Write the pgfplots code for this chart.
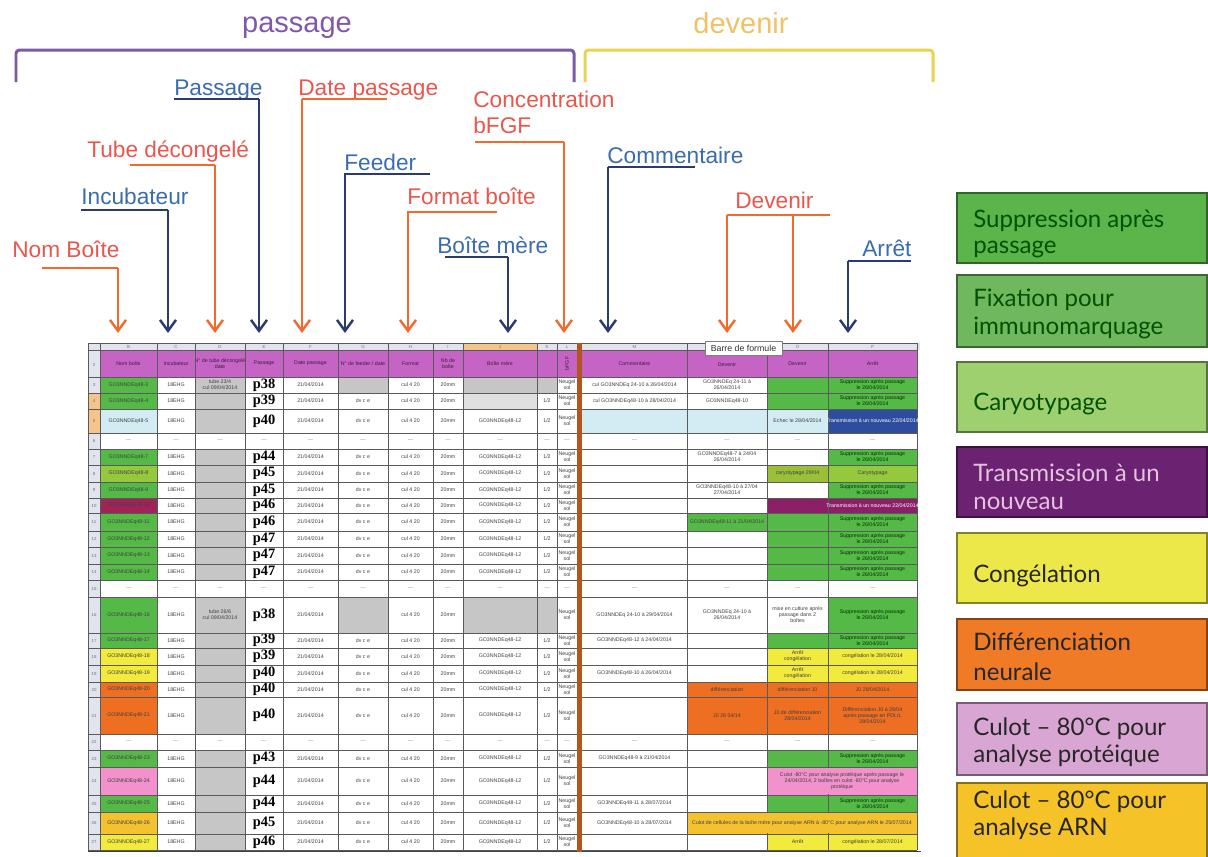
\documentclass[border=0pt]{standalone}
\usepackage{pgfplots}
\pgfplotsset{compat=1.18}
\usepackage{fontspec}
\setmainfont{Liberation Sans}
\newfontfamily\legfont{Lato}
\newfontfamily\serfont{Liberation Serif}
\usetikzlibrary{arrows.meta}

\definecolor{ttlpurple}{HTML}{8158A8}
\definecolor{brkpurple}{HTML}{7A5BA6}
\definecolor{ttlgold}{HTML}{F0C264}
\definecolor{brkyellow}{HTML}{E9D44C}
\definecolor{labred}{HTML}{E9564C}
\definecolor{labblue}{HTML}{3A6DB0}
\definecolor{arrred}{HTML}{F26A2E}
\definecolor{arrblue}{HTML}{2B3B70}
\definecolor{sgreen}{HTML}{55B947}
\definecolor{sygreen}{HTML}{94C83D}
\definecolor{solive}{HTML}{9CBF3A}
\definecolor{smaroon}{HTML}{A02458}
\definecolor{spurple}{HTML}{8C2067}
\definecolor{syellow}{HTML}{F2EA3C}
\definecolor{sorange}{HTML}{EE6F22}
\definecolor{spink}{HTML}{F291CB}
\definecolor{samber}{HTML}{F4C22F}
\definecolor{slblue}{HTML}{D3EBF3}
\definecolor{sblue}{HTML}{2E4D9E}
\definecolor{smag}{HTML}{C564C5}
\definecolor{sgray}{HTML}{C6C6C6}
\definecolor{shead}{HTML}{E1E4EC}
\definecolor{shorange}{HTML}{F5C48C}
\definecolor{sbrown}{HTML}{B4541E}
\definecolor{sgrid}{HTML}{5A5A5A}
\definecolor{lgA}{HTML}{5BB54A}
\definecolor{lgB}{HTML}{70B85D}
\definecolor{lgC}{HTML}{9FD070}
\definecolor{lgD}{HTML}{6B2270}
\definecolor{lgE}{HTML}{ECE84A}
\definecolor{lgF}{HTML}{EF7B26}
\definecolor{lgG}{HTML}{D9A6D4}
\definecolor{lgH}{HTML}{F5C228}

\newcommand\tfont{\fontsize{3}{3.4}\selectfont}
\newcommand\annfont{\fontsize{12.9}{15}\selectfont}
\newcommand\legf{\legfont\fontsize{13.7}{15}\selectfont}

\tikzset{
  tt/.style={font=\tfont, text=black!75, inner sep=0pt, align=center},
  pf/.style={font=\serfont\bfseries\fontsize{8.2}{8.2}\selectfont, inner sep=0pt},
  rn/.style={font=\fontsize{2.5}{2.5}\selectfont, text=black!55, inner sep=0pt},
}

% annotation helpers
\newcommand{\lab}[4]{\node[anchor=base west, inner sep=0pt, text=#1, font=\annfont] at (#2,#3) {#4};}
\newcommand{\uline}[4]{\draw[#1, line width=1pt] (#2,#4) -- (#3,#4);}
\newcommand{\arr}[3]{\draw[#1, line width=1.1pt, -{Straight Barb[length=2.2mm,width=3.2mm,line width=1.4pt]}] (#2,#3) -- (#2,333);}
% legend helpers
\newcommand{\legbox}[3]{\filldraw[fill=#3, draw=#3!55!black, line width=0.9pt] (957,#1) rectangle (1207,#2);}
\newcommand{\legt}[3]{\node[anchor=base west, inner sep=0pt, text=#1, font=\legf] at (973,#2) {#3};}

% data row: top, bottom, mid, passage, B, N, O, P colours, row number
\newcommand{\drow}[9]{%
 \fill[#5] (100,#1) rectangle (157,#2);
 \fill[sgray] (195,#1) rectangle (245,#2);
 \fill[#6] (687,#1) rectangle (767,#2);
 \fill[#7] (767,#1) rectangle (828,#2);
 \fill[#8] (828,#1) rectangle (917,#2);
 \node[pf] at (264,#3) {#4};
 \node[tt] at (128.5,#3) {GO3NNDEq48-#9};
 \node[tt] at (176,#3) {18EHG};
 \node[tt] at (310.5,#3) {21/04/2014};
 \node[tt] at (363,#3) {dv c e};
 \node[tt] at (410.5,#3) {cul 4 20};
 \node[tt] at (448,#3) {20mm};
 \node[tt] at (500,#3) {GO3NNDEq48-12};
 \node[tt] at (547,#3) {1/2};
 \node[tt] at (567,#3) {Neugel\\sol};
 \node[rn] at (94,#3) {#9};
}
\newcommand{\dotrow}[4]{%
 \pgfplotsinvokeforeach{128.5,176,220,264,310.5,363,410.5,448,500,547,567,634.5,727,797.5,872.5}{\node[tt,text=black!45] at (##1,#3) {---};}
 \node[rn] at (94,#3) {#4};
}

\begin{document}
\begin{tikzpicture}
\begin{axis}[width=24.16cm, height=17.12cm, scale only axis,
  xmin=0, xmax=1208, ymin=0, ymax=856, y dir=reverse, hide axis, clip=true]
\fill[white] (0,0) rectangle (1208,856);

% ---------- titles and brackets ----------
\node[anchor=base, inner sep=0pt, text=ttlpurple, font=\fontsize{16.5}{18}\selectfont] at (297,32) {passage};
\node[anchor=base, inner sep=0pt, text=ttlgold, font=\fontsize{16.5}{18}\selectfont] at (741,33) {devenir};
\draw[brkpurple, line width=1.7pt, rounded corners=2pt] (16,82) -- (16,50) -- (574,50) -- (574,82);
\draw[brkyellow, line width=1.7pt, rounded corners=2pt] (585,82) -- (585,50) -- (933,50) -- (933,82);

% ---------- annotations ----------
\lab{labred}{12}{257}{Nom Boîte}
\uline{arrred}{42}{118}{268}\arr{arrred}{118}{268}
\lab{labblue}{81}{204}{Incubateur}
\uline{arrblue}{81}{168}{210}\arr{arrblue}{168}{210}
\lab{labred}{87}{157}{Tube décongelé}
\uline{arrred}{130}{215}{165}\arr{arrred}{215}{165}
\lab{labblue}{174}{95}{Passage}
\uline{arrblue}{174}{259}{99}\arr{arrblue}{259}{99}
\lab{labred}{298}{95}{Date passage}
\uline{arrred}{302}{387}{99}\arr{arrred}{302}{99}
\lab{labblue}{344}{170}{Feeder}
\uline{arrblue}{344}{430}{174}\arr{arrblue}{345}{174}
\lab{labred}{407}{204}{Format boîte}
\uline{arrred}{407}{497}{212}\arr{arrred}{408}{212}
\lab{labblue}{437}{253}{Boîte mère}
\uline{arrblue}{445}{508}{257}\arr{arrblue}{508}{257}
\lab{labred}{473}{107}{Concentration}
\lab{labred}{473}{133}{bFGF}
\uline{arrred}{475}{564}{142}\arr{arrred}{564}{142}
\lab{labblue}{607}{163}{Commentaire}
\uline{arrblue}{608}{695}{167}\arr{arrblue}{608}{167}
\lab{labred}{735}{208}{Devenir}
\uline{arrred}{727}{830}{215}\arr{arrred}{727}{215}\arr{arrred}{793}{215}
\lab{labblue}{862}{256}{Arrêt}
\uline{arrblue}{848}{911}{261}\arr{arrblue}{848}{261}

% ---------- legend ----------
\legbox{193}{263}{lgA}
\legt{black!20!green!40!black}{227}{Suppression après}
\legt{black!20!green!40!black}{253}{passage}
\legbox{275}{347}{lgB}
\legt{black!20!green!40!black}{306}{Fixation pour}
\legt{black!20!green!40!black}{334}{immunomarquage}
\legbox{362}{432}{lgC}
\legt{black!20!green!40!black}{410}{Caryotypage}
\legbox{447}{517}{lgD}
\legt{lgG!70!white}{481}{Transmission à un}
\legt{lgG!70!white}{509}{nouveau}
\legbox{533}{603}{lgE}
\legt{black!85}{582}{Congélation}
\legbox{619}{690}{lgF}
\legt{black!85}{650}{Différenciation}
\legt{black!85}{680}{neurale}
\legbox{703}{775}{lgG}
\legt{black!85}{735}{Culot – 80°C pour}
\legt{black!85}{762}{analyse protéique}
\legbox{783}{870}{lgH}
\legt{black!85}{808}{Culot – 80°C pour}
\legt{black!85}{835}{analyse ARN}

% ---------- spreadsheet ----------
\fill[shead] (88,343) rectangle (920,350);
\fill[shorange] (463,343) rectangle (537,350);
\fill[shead] (88,350) rectangle (100,852);
\fill[shorange] (88,393) rectangle (100,433);
\fill[smag] (100,350) rectangle (917,377);
\node[rn] at (128.5,346.5) {B};\node[rn] at (176,346.5) {C};\node[rn] at (220,346.5) {D};
\node[rn] at (264,346.5) {E};\node[rn] at (310.5,346.5) {F};\node[rn] at (363,346.5) {G};
\node[rn] at (410.5,346.5) {H};\node[rn] at (448,346.5) {I};\node[rn] at (500,346.5) {J};
\node[rn] at (547,346.5) {K};\node[rn] at (567,346.5) {L};\node[rn] at (634.5,346.5) {M};
\node[rn] at (797.5,346.5) {O};\node[rn] at (872.5,346.5) {P};
\node[rn] at (94,365) {2};
% header texts
\node[tt,text=black!70!smag] at (128.5,363.5) {Nom boîte};
\node[tt,text=black!70!smag] at (176,363.5) {Incubateur};
\node[tt,text=black!70!smag] at (220,363.5) {N° de tube décongelé\\date};
\node[tt,text=black!70!smag] at (264,363.5) {Passage};
\node[tt,text=black!70!smag] at (310.5,363.5) {Date passage};
\node[tt,text=black!70!smag] at (363,363.5) {N° de feeder / date};
\node[tt,text=black!70!smag] at (410.5,363.5) {Format};
\node[tt,text=black!70!smag] at (448,363.5) {Nb de\\boîte};
\node[tt,text=black!70!smag] at (500,363.5) {Boîte mère};
\node[tt,text=black!70!smag,rotate=90] at (567,363.5) {bFGF};
\node[tt,text=black!70!smag] at (634.5,363.5) {Commentaire};
\node[tt,text=black!70!smag] at (727,365) {Devenir};
\node[tt,text=black!70!smag] at (797.5,363.5) {Devenir};
\node[tt,text=black!70!smag] at (872.5,363.5) {Arrêt};

% rows
\drow{377}{393}{385}{p38}{sgreen}{white}{sgreen}{sgreen}{3}
\drow{393}{409}{401}{p39}{sgreen}{white}{sgreen}{sgreen}{4}
\drow{409}{433}{421}{p40}{slblue}{slblue}{slblue}{sblue}{5}
\fill[slblue] (582,409) rectangle (687,433);
\dotrow{433}{449}{441}{6}
\drow{449}{465}{457}{p44}{sgreen}{white}{white}{sgreen}{7}
\drow{465}{482}{473.5}{p45}{sygreen}{white}{solive}{sygreen}{8}
\drow{482}{498}{490}{p45}{sgreen}{white}{white}{sgreen}{9}
\drow{498}{513}{505.5}{p46}{smaroon}{white}{spurple}{spurple}{10}
\drow{513}{531}{522}{p46}{sgreen}{sgreen}{sgreen}{sgreen}{11}
\drow{531}{547}{539}{p47}{sgreen}{white}{sgreen}{sgreen}{12}
\drow{547}{564}{555.5}{p47}{sgreen}{white}{sgreen}{sgreen}{13}
\drow{564}{580}{572}{p47}{sgreen}{white}{sgreen}{sgreen}{14}
\dotrow{580}{597}{588.5}{15}
\drow{597}{633}{615}{p38}{sgreen}{white}{white}{sgreen}{16}
\drow{633}{648}{640.5}{p39}{sgreen}{white}{sgreen}{sgreen}{17}
\drow{648}{665}{656.5}{p39}{syellow}{white}{syellow}{syellow}{18}
\drow{665}{682}{673.5}{p40}{syellow}{white}{syellow}{syellow}{19}
\drow{682}{697}{689.5}{p40}{sorange}{sorange}{sorange}{sorange}{20}
\drow{697}{734}{715.5}{p40}{sorange}{sorange}{sorange}{sorange}{21}
\dotrow{734}{750}{742}{22}
\drow{750}{767}{758.5}{p43}{sgreen}{white}{sgreen}{sgreen}{23}
\drow{767}{795}{781}{p44}{spink}{white}{spink}{spink}{24}
\drow{795}{812}{803.5}{p44}{sgreen}{white}{sgreen}{sgreen}{25}
\drow{812}{834}{823}{p45}{samber}{samber}{samber}{samber}{26}
\drow{834}{850}{842}{p46}{syellow}{white}{syellow}{syellow}{27}

% grey feeder / mother cells
\fill[sgray] (338,377) rectangle (388,393);
\fill[sgray] (463,377) rectangle (557,393);
\fill[black!12] (463,393) rectangle (537,409);
\fill[sgray] (338,597) rectangle (388,633);
\fill[sgray] (463,597) rectangle (557,633);
\node[tt,fill=sgray] at (220,385) {tube 23/4\\cul 09/04/2014};
\node[tt,fill=sgray] at (220,615) {tube 26/6\\cul 09/04/2014};

% grid
\pgfplotsinvokeforeach{343,350,377,393,409,433,449,465,482,498,513,531,547,564,580,597,633,648,665,682,697,734,750,767,795,812,834,850}{\draw[sgrid, line width=0.45pt] (88,#1) -- (917,#1);}
\pgfplotsinvokeforeach{88,100,157,195,245,283,338,388,433,463,537,557,577,687,767,828,917}{\draw[sgrid, line width=0.45pt] (#1,343) -- (#1,850);}
\draw[black!75, line width=1.1pt] (88,851.5) -- (921,851.5);
\fill[sbrown] (577,343) rectangle (582,852);

% merged cells
\fill[spink] (767.6,767.6) rectangle (916.4,794.4);
\fill[samber] (687.6,812.6) rectangle (916.4,833.4);

% comment / devenir texts
\node[tt] at (634.5,385) {cul GO3NNDEq 24-10 à 26/04/2014};
\node[tt] at (634.5,401) {cul GO3NNDEq48-10 à 28/04/2014};
\node[tt] at (634.5,615) {GO3NNDEq 24-10 à 29/04/2014};
\node[tt] at (634.5,640.5) {GO3NNDEq48-12 à 24/04/2014};
\node[tt] at (634.5,673.5) {GO3NNDEq48-10 à 26/04/2014};
\node[tt] at (634.5,758.5) {GO3NNDEq48-9 à 21/04/2014};
\node[tt] at (634.5,803.5) {GO3NNDEq48-11 à 28/07/2014};
\node[tt] at (634.5,823) {GO3NNDEq48-10 à 28/07/2014};
\node[tt] at (727,385) {GO3NNDEq 24-11 à\\26/04/2014};
\node[tt] at (727,401) {GO3NNDEq48-10};
\node[tt] at (727,457) {GO3NNDEq48-7 à 24/04\\26/04/2014};
\node[tt] at (727,490) {GO3NNDEq48-10 à 27/04\\27/04/2014};
\node[tt] at (727,522) {GO3NNDEq48-11 à 21/04/2014};
\node[tt] at (727,615) {GO3NNDEq 24-10 à\\26/04/2014};
\node[tt] at (727,689.5) {différenciation};
\node[tt] at (727,715.5) {J0 28 04/14};
\node[tt] at (797.5,421) {Echec le 28/04/2014};
\node[tt] at (797.5,473.5) {caryotypage 29/04};
\node[tt] at (797.5,615) {mise en culture après\\passage dans 2\\boîtes};
\node[tt] at (797.5,656.5) {Arrêt\\congélation};
\node[tt] at (797.5,673.5) {Arrêt\\congélation};
\node[tt] at (797.5,689.5) {différenciation J0};
\node[tt] at (797.5,715.5) {J0 de différenciation\\28/04/2014};
\node[tt] at (797.5,842) {Arrêt};
% stop column
\pgfplotsinvokeforeach{385,401,457,490,522,539,555.5,572,615,640.5,758.5,803.5}{\node[tt,text=black!80!green] at (872.5,#1) {Suppression après passage\\le 26/04/2014};}
\node[tt,text=white] at (872.5,421) {Transmission à un nouveau 22/04/2014};
\node[tt] at (872.5,473.5) {Caryotypage};
\node[tt,text=white] at (872.5,505.5) {Transmission à un nouveau 22/04/2014};
\node[tt] at (872.5,656.5) {congélation le 28/04/2014};
\node[tt] at (872.5,673.5) {congélation le 28/04/2014};
\node[tt] at (872.5,689.5) {J0 28/04/2014};
\node[tt] at (872.5,715.5) {Différenciation J0 à 28/04\\après passage en PDL/L\\28/04/2014};
\node[tt] at (842,781) {Culot -80°C pour analyse protéique après passage le\\24/04/2014, 2 boîtes en culot -80°C pour analyse\\protéique};
\node[tt] at (802,823) {Culot de cellules de la boîte mère pour analyse ARN à -80°C pour analyse ARN le 25/07/2014};
\node[tt] at (872.5,842) {congélation le 28/07/2014};

% formula-bar tooltip
\filldraw[fill=white, draw=black!50, line width=0.4pt] (705,341) rectangle (782,355);
\node[inner sep=0pt, font=\fontsize{5}{5}\selectfont, text=black!80] at (743.5,348) {Barre de formule};
\end{axis}
\end{tikzpicture}
\end{document}
